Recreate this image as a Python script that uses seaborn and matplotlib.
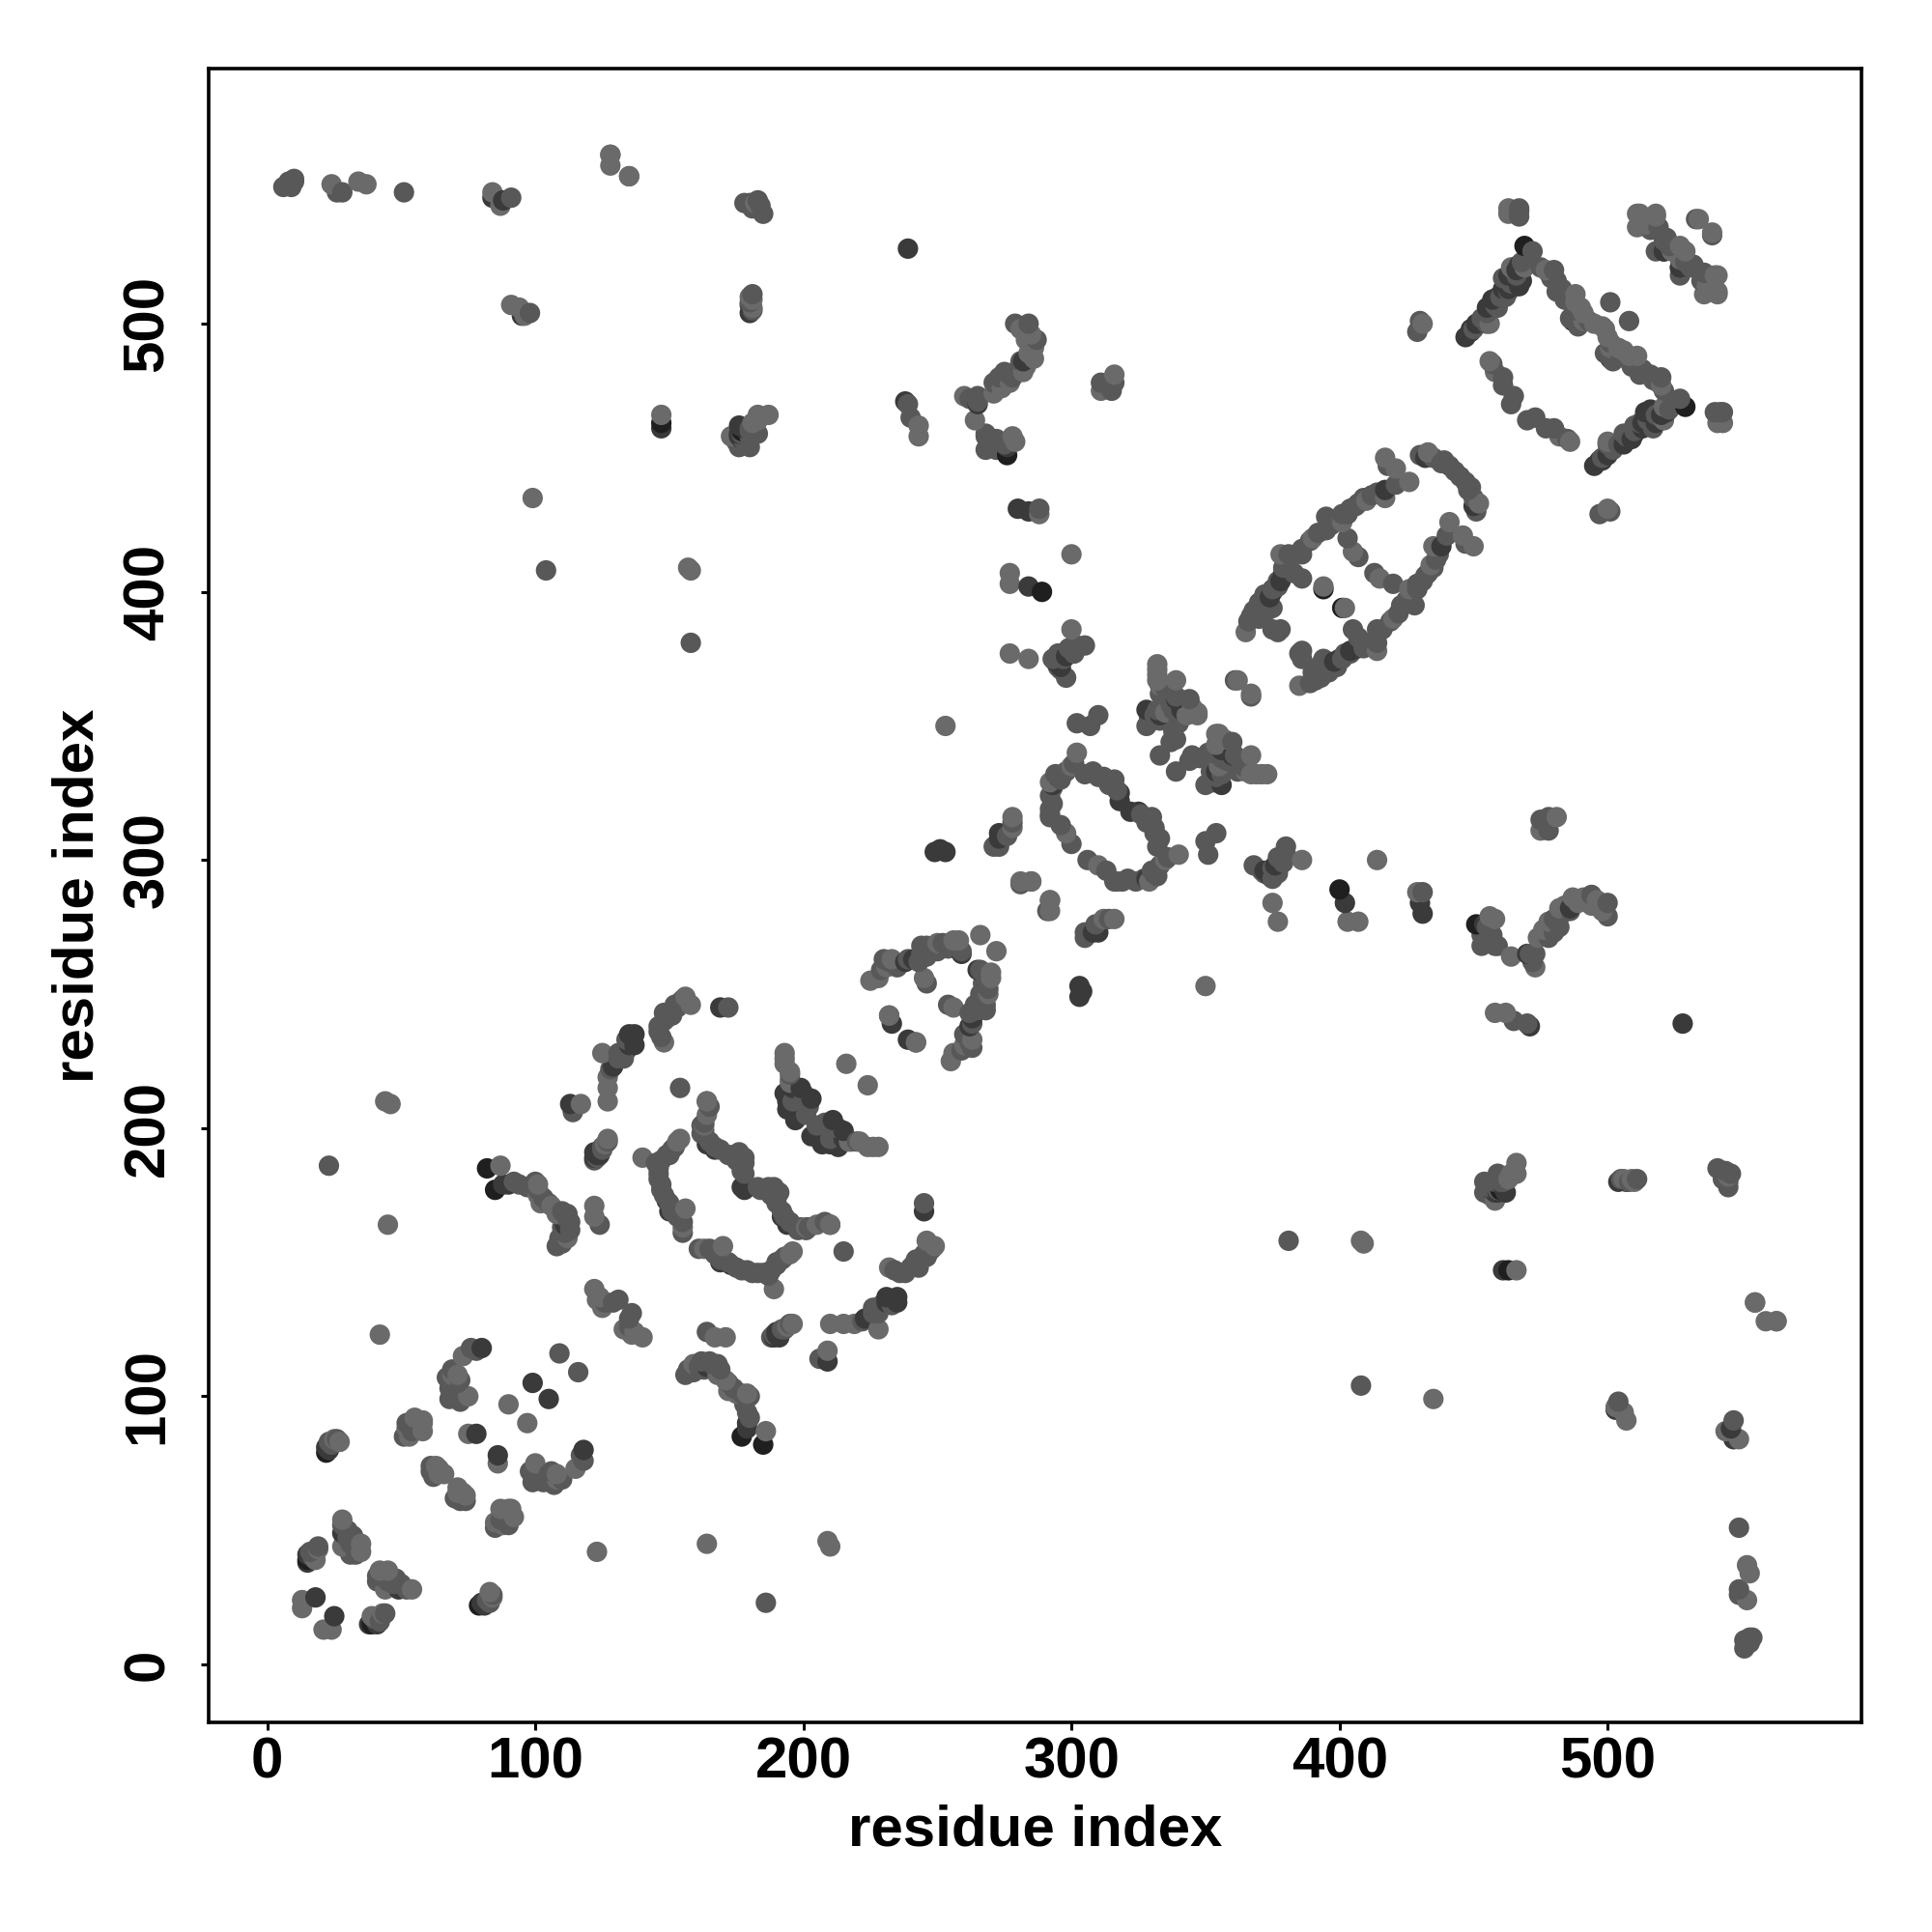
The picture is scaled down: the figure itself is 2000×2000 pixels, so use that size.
import matplotlib
matplotlib.use("Agg")
import matplotlib.pyplot as plt
import pandas as pd
import seaborn as sns

contacts_black = [
    (185, 82), (400, 289), (529, 469), (39, 15), (451, 276), (79, 22), (460, 177),
    (463, 147), (401, 394), (177, 85),
]
contacts_dark = [
    (118, 80), (86, 78), (25, 18), (105, 99), (49, 28), (81, 22), (209, 113), (189, 122),
    (190, 124), (223, 129), (231, 135), (235, 135), (231, 137), (235, 137), (245, 169),
    (215, 196), (215, 199), (211, 203), (210, 194), (203, 197), (263, 241), (265, 259),
    (239, 233), (173, 149), (164, 111), (179, 88), (179, 90), (194, 164), (192, 167),
    (407, 379), (398, 374), (404, 378), (400, 375), (376, 298), (374, 294), (372, 296),
    (310, 273), (308, 273), (325, 318), (322, 318), (331, 295), (328, 293), (402, 284),
    (431, 280), (430, 284), (438, 417), (356, 328), (356, 341), (354, 333), (360, 339),
    (470, 265), (454, 276), (471, 238), (528, 239), (461, 147), (458, 176), (457, 177),
    (504, 180), (507, 180), (546, 88), (547, 84), (503, 95), (514, 467), (516, 468),
    (513, 461), (509, 457), (500, 451), (497, 449), (495, 447), (498, 449), (521, 527),
    (527, 521), (501, 487), (450, 432), (303, 253), (303, 249), (304, 251), (486, 282),
    (38, 15), (178, 177), (150, 169), (262, 238), (459, 176), (462, 176), (461, 178),
    (515, 462), (510, 459), (520, 466), (518, 463), (522, 467), (513, 463), (506, 455),
    (41, 15), (80, 23), (190, 123), (191, 122), (213, 193), (207, 194),
]
contacts_mid = [
    (41, 31), (48, 32), (40, 17), (84, 26), (99, 68), (105, 71), (118, 76), (116, 109),
    (74, 61), (179, 94), (168, 112), (165, 113), (162, 113), (159, 109), (156, 108),
    (164, 124), (135, 129), (186, 23), (195, 127), (192, 125), (188, 122), (206, 114),
    (226, 133), (236, 146), (240, 148), (242, 151), (245, 153), (248, 155), (245, 172),
    (215, 154), (210, 164), (208, 165), (202, 163), (198, 162), (192, 169), (190, 174),
    (187, 178), (184, 177), (169, 151), (177, 147), (183, 146), (187, 145), (190, 149),
    (193, 152), (161, 155), (165, 155), (208, 202), (220, 195), (269, 252), (268, 246),
    (265, 244), (263, 230), (259, 229), (254, 246), (259, 266), (232, 242), (414, 381),
    (414, 386), (428, 395), (423, 395), (429, 403), (432, 406), (440, 421), (447, 418),
    (448, 438), (447, 441), (413, 407), (420, 403), (402, 377), (394, 375), (393, 368),
    (389, 366), (405, 386), (407, 383), (380, 305), (380, 302), (368, 298), (371, 296),
    (336, 301), (333, 308), (331, 312), (330, 316), (330, 296), (321, 293), (317, 292),
    (316, 292), (306, 300), (291, 281), (305, 271), (305, 273), (352, 333), (351, 340),
    (344, 337), (339, 333), (364, 335), (360, 344), (356, 332), (353, 329), (431, 288),
    (457, 272), (458, 268), (453, 268), (453, 272), (465, 240), (470, 239), (473, 265),
    (478, 271), (482, 275), (486, 281), (494, 287), (500, 284), (500, 279), (475, 315),
    (478, 311), (478, 316), (454, 180), (454, 176), (459, 183), (462, 182), (511, 181),
    (545, 178), (544, 184), (541, 185), (549, 51), (549, 28), (549, 26), (553, 10),
    (551, 9), (551, 6), (554, 10), (553, 8), (408, 104), (547, 91), (504, 98), (381, 158),
    (508, 501), (540, 467), (543, 467), (527, 472), (520, 465), (517, 461), (510, 462),
    (506, 459), (500, 455), (520, 480), (516, 481), (512, 481), (509, 484), (501, 493),
    (499, 489), (485, 457), (480, 461), (477, 461), (473, 465), (470, 464), (532, 522),
    (536, 519), (539, 533), (527, 518), (501, 430), (497, 429), (350, 307), (351, 302),
    (367, 361), (354, 310), (314, 278), (309, 276), (467, 542),
    # denser runs along the bands
    (396, 370), (399, 372), (401, 375), (404, 377), (409, 379), (411, 381), (416, 386),
    (419, 389), (422, 392), (425, 397), (427, 399), (429, 401), (431, 404), (433, 407),
    (435, 409), (436, 412), (437, 414), (451, 430), (450, 435), (449, 439), (445, 443),
    (498, 450), (502, 453), (504, 455), (507, 458), (510, 460), (512, 463), (515, 464),
    (518, 466), (523, 468), (525, 470), (503, 489), (505, 488), (507, 487), (510, 486),
    (513, 483), (517, 479), (519, 478), (521, 475), (502, 486), (535, 516), (531, 521),
    (529, 523), (326, 317), (328, 314), (331, 310), (332, 305), (333, 298), (332, 294),
    (327, 293), (324, 292), (319, 292), (313, 296), (167, 153), (172, 150), (175, 148),
    (179, 147), (181, 146), (185, 146), (188, 147), (190, 150), (192, 151), (183, 178),
    (186, 177), (188, 175), (190, 172), (193, 167), (195, 165), (199, 163), (201, 162),
    (189, 178), (191, 176), (234, 147), (238, 146), (241, 149), (243, 150), (246, 152),
    (247, 154), (243, 148), (233, 134), (229, 134), (226, 131), (222, 128), (228, 131),
    (193, 125), (189, 123), (163, 110), (166, 112), (169, 110), (172, 105), (174, 103),
    (177, 101), (161, 111), (157, 110), (180, 100), (178, 97), (180, 92), (42, 16),
    (44, 19), (82, 24), (83, 23), (47, 30), (50, 30), (52, 28), (41, 33), (45, 31),
    (104, 70), (106, 72), (110, 69), (103, 68), (98, 72), (101, 71), (107, 67), (89, 56),
    (87, 54), (85, 51), (90, 52), (72, 61), (70, 62), (117, 78), (135, 126), (136, 131),
    (213, 200), (209, 201), (212, 197), (210, 196), (205, 201), (268, 256), (267, 254),
    (266, 250), (266, 248), (264, 246), (262, 243), (263, 239), (260, 235), (262, 232),
    (268, 244), (345, 339), (348, 338), (352, 340), (356, 338), (358, 337), (362, 333),
    (361, 339), (354, 331), (352, 329), (350, 328), (377, 301), (379, 299), (377, 295),
    (375, 293), (375, 297), (372, 295), (455, 270), (455, 275), (456, 270), (459, 268),
    (472, 262), (471, 265), (480, 278), (483, 280), (480, 273), (460, 180), (459, 177),
    (461, 180), (456, 178), (458, 180), (456, 175), (505, 181), (508, 180), (543, 181),
    (546, 183), (545, 180), (391, 367), (392, 369), (390, 370), (395, 372), (393, 373),
    (386, 378), (386, 375), (385, 377),
]
contacts_light = [
    (43, 19), (21, 13), (24, 13), (42, 35), (45, 35), (44, 28), (54, 28), (100, 75),
    (108, 71), (108, 69), (115, 73), (86, 75), (73, 64), (71, 64), (90, 58), (92, 55),
    (88, 52), (85, 53), (97, 90), (186, 87), (179, 101), (175, 101), (172, 102), (171, 106),
    (168, 108), (159, 112), (171, 122), (167, 122), (140, 122), (133, 125), (136, 123),
    (164, 45), (123, 42), (209, 46), (210, 44), (209, 117), (210, 127), (215, 127),
    (219, 127), (228, 125), (232, 148), (246, 158), (224, 193), (228, 193), (224, 216),
    (272, 266), (270, 256), (269, 250), (263, 233), (255, 225), (256, 245), (242, 232),
    (196, 154), (189, 140), (170, 156), (163, 201), (164, 210), (452, 433), (450, 417),
    (446, 421), (441, 426), (435, 417), (434, 410), (426, 401), (420, 390), (414, 378),
    (385, 365), (415, 405), (402, 394), (386, 300), (414, 300), (375, 284), (377, 277),
    (403, 277), (407, 277), (429, 288), (373, 332), (367, 332), (367, 339), (355, 347),
    (340, 302), (329, 292), (310, 298), (292, 285), (285, 292), (281, 292), (316, 278),
    (312, 278), (350, 253), (354, 347), (456, 279), (464, 264), (473, 260), (474, 271),
    (478, 277), (482, 282), (487, 286), (491, 286), (494, 283), (458, 243), (462, 243),
    (481, 316), (475, 311), (466, 187), (466, 183), (458, 173), (506, 181), (545, 182),
    (408, 158), (409, 157), (466, 147), (555, 135), (559, 128), (563, 128), (435, 99),
    (503, 96), (506, 94), (507, 91), (544, 87), (549, 84), (552, 37), (553, 34), (552, 24),
    (541, 463), (543, 463), (521, 469), (521, 464), (500, 456), (520, 477), (511, 488),
    (508, 488), (486, 456), (482, 458), (536, 511), (541, 511), (540, 518), (534, 539),
    (512, 541), (128, 563), (135, 555), (518, 541), (362, 367), (529, 527), (500, 431),
    # denser runs along the bands
    (537, 514), (539, 512), (524, 527), (335, 300), (163, 155), (195, 153), (205, 164),
    (249, 156), (194, 126), (196, 127), (39, 18), (84, 25), (83, 27), (91, 58), (87, 58),
    (74, 63), (71, 66), (137, 124), (217, 195), (221, 195), (218, 195), (226, 193),
    (270, 258), (256, 228), (260, 231), (365, 333), (369, 332), (371, 332), (357, 345),
    (354, 343), (355, 335), (458, 278), (476, 274), (484, 283), (489, 284), (492, 285),
    (496, 285), (498, 281), (497, 283), (463, 181), (464, 183), (509, 181), (510, 180),
    (504, 491), (499, 498), (506, 490), (500, 495), (501, 491),
]
tick_values = [0, 100, 200, 300, 400, 500]

GROUPS = [
    ("black", contacts_black, "#1f1f1f"),
    ("dark", contacts_dark, "#3a3a3a"),
    ("mid", contacts_mid, "#585858"),
    ("light", contacts_light, "#6a6a6a"),
]


def contact_frame():
    rows = []
    for name, pairs, _ in GROUPS:
        for i, j in pairs:
            rows.append({"x": i, "y": j, "shade": name})
            rows.append({"x": j, "y": i, "shade": name})
    frame = pd.DataFrame(rows)
    # later residues sit on top, the way the contacts overlap in the map
    return frame.assign(order=frame["x"] + frame["y"]).sort_values("order", kind="stable")


sns.set_theme(style="white")
plt.rcParams["font.family"] = ["Liberation Sans", "DejaVu Sans"]

fig = plt.figure(figsize=(10, 10), dpi=200)
ax = fig.add_axes([0.1078, 0.1085, 0.8557, 0.8558])

df = contact_frame()
palette = {name: colour for name, _, colour in GROUPS}
sns.scatterplot(data=df, x="x", y="y", hue="shade", palette=palette, s=58, linewidth=0,
                alpha=1, legend=False, ax=ax)

ax.set_xlim(-22, 594.7)
ax.set_ylim(-21.6, 595)
ax.set_xticks(tick_values)
ax.set_yticks(tick_values)
ax.set_xlabel("residue index", fontsize=21.6, fontweight="bold", labelpad=5.4, color="black")
ax.set_ylabel("residue index", fontsize=21.6, fontweight="bold", labelpad=6.5, color="black")
ax.tick_params(axis="x", length=3, width=1.1, labelsize=21.6, pad=2.2, color="black",
               bottom=True, labelcolor="black")
ax.tick_params(axis="y", length=3, width=1.1, labelsize=21.6, pad=9.4, color="black",
               left=True, labelcolor="black")
for label in ax.get_xticklabels() + ax.get_yticklabels():
    label.set_fontweight("bold")
for label in ax.get_yticklabels():
    label.set_rotation(90)
    label.set_va("center")
for spine in ax.spines.values():
    spine.set_visible(True)
    spine.set_color("black")
    spine.set_linewidth(1.3)

fig.savefig("out.png", dpi=200)
plt.close(fig)
